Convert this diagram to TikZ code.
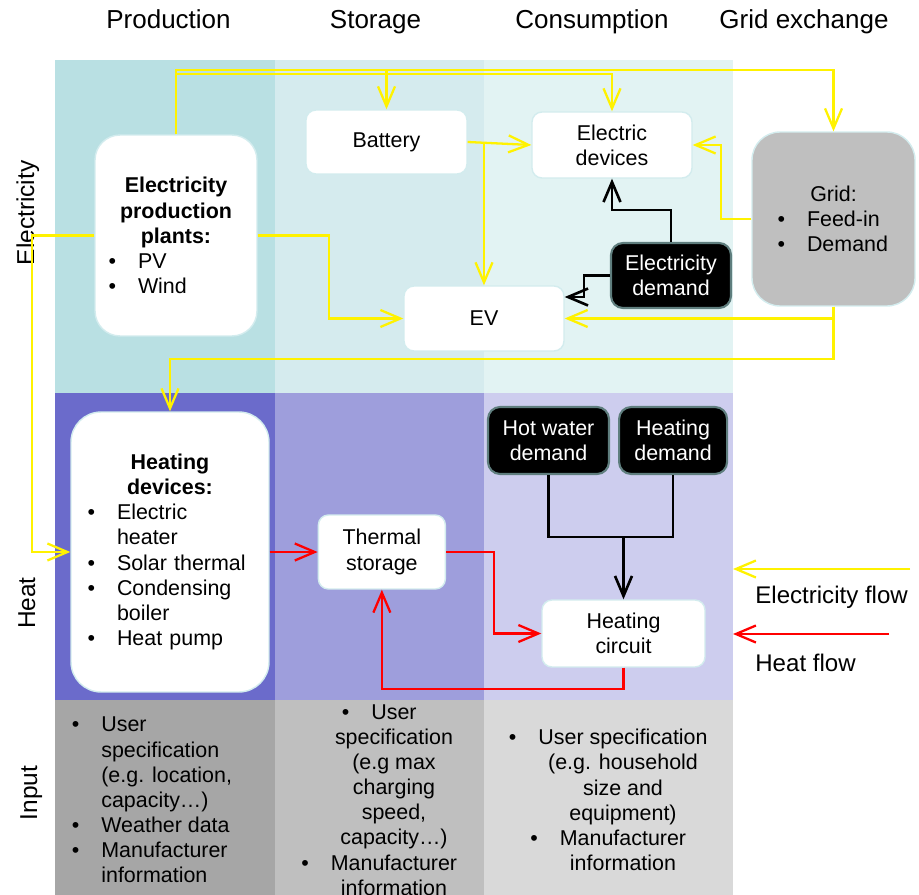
\documentclass[tikz,border=0pt]{standalone}
\usepackage{fontspec}
\setmainfont{Liberation Sans}
\usepackage{xcolor}
\usepackage{tikz}
\usetikzlibrary{arrows.meta,positioning}

\definecolor{elprod}{HTML}{B9E0E3}
\definecolor{elstor}{HTML}{D5EBEE}
\definecolor{elcons}{HTML}{E2F3F3}
\definecolor{htprod}{HTML}{6B6BCB}
\definecolor{htstor}{HTML}{9E9EDC}
\definecolor{htcons}{HTML}{CDCDEE}
\definecolor{inprod}{HTML}{A6A6A6}
\definecolor{instor}{HTML}{BFBFBF}
\definecolor{incons}{HTML}{D9D9D9}
\definecolor{gridgray}{HTML}{BFBFBF}
\definecolor{boxline}{HTML}{D3ECEE}
\definecolor{demline}{HTML}{5F7E7E}

\newcommand{\bodyfont}{\fontsize{12.2}{14.3}\selectfont}
\newcommand{\centred}[1]{\hspace*{\fill}#1\hspace*{\fill}\null}
\newcommand{\itm}[2]{\hspace*{#1}\llap{\textbullet\hspace{0.44cm}}#2}
\newcommand{\blt}{\llap{\textbullet\hspace{0.44cm}}}

\begin{document}
\begin{tikzpicture}[x=0.02cm, y=-0.02cm,
    box/.style={draw=boxline, line width=0.8pt, fill=white, rounded corners=0.2cm,
      align=center, inner sep=0pt, font=\bodyfont},
    bigbox/.style={box, rounded corners=0.5cm, align=left, inner xsep=0pt,
      execute at begin node={\setlength{\parindent}{0pt}}},
    dembox/.style={box, draw=demline, line width=1.2pt, fill=black, text=white,
      rounded corners=0.24cm},
    elec/.style={draw=yellow, line width=1.3pt, -{Straight Barb[length=4mm,width=3.4mm]}},
    heat/.style={elec, draw=red},
    dem/.style={elec, draw=black, line width=1.5pt},
    colhead/.style={font=\fontsize{14.8}{17}\selectfont, anchor=base},
    rowlab/.style={font=\fontsize{13.9}{16}\selectfont, rotate=90, anchor=base},
    inlist/.style={font=\bodyfont, align=center, inner sep=0pt},
    legtext/.style={font=\fontsize{13.7}{16}\selectfont, anchor=west, inner sep=0pt}]
  \useasboundingbox (0,0) rectangle (919,895);

  % background bands
  \fill[elprod] (55,60) rectangle (275,393);
  \fill[elstor] (275,60) rectangle (484,393);
  \fill[elcons] (484,60) rectangle (733,393);
  \fill[htprod] (55,393) rectangle (275,700);
  \fill[htstor] (275,393) rectangle (484,700);
  \fill[htcons] (484,393) rectangle (733,700);
  \fill[inprod] (55,700) rectangle (275,895);
  \fill[instor] (275,700) rectangle (484,895);
  \fill[incons] (484,700) rectangle (733,895);

  % headers
  \node[colhead] (hprod) at (168.5,28.5) {Production};
  \node[colhead] (hstor) at (375.5,28.5) {Storage};
  \node[colhead] (hcons) at (592,28.5) {Consumption};
  \node[colhead] (hgrid) at (804,28.5) {Grid exchange};
  \node[rowlab] (lelec) at (34,213) {Electricity};
  \node[rowlab] (lheat) at (35,603) {Heat};
  \node[rowlab] (linput) at (37,793) {Input};

  % electricity
  \node[bigbox, text width=3.24cm, minimum height=4.02cm] (epp) at (176,235.5)
    {\centred{\textbf{Electricity}}\\\centred{\textbf{production}}\\\centred{\textbf{plants:}}\\\itm{0.86cm}{PV}\\\itm{0.86cm}{Wind}};
  \node[box, minimum width=3.22cm, minimum height=1.28cm] (bat) at (386.5,142) {Battery};
  \node[box, minimum width=3.2cm, minimum height=1.32cm] (edev) at (612,145) {Electric\\devices};
  \node[box, minimum width=3.2cm, minimum height=1.3cm] (ev) at (484,318.5) {EV};
  \node[dembox, minimum width=2.4cm, minimum height=1.3cm] (edem) at (671,275.5) {Electricity\\demand};
  \node[bigbox, fill=gridgray, rounded corners=0.56cm, text width=3.26cm, minimum height=3.48cm] (grid) at (833.5,219)
    {\centred{Grid:}\\\itm{1.1cm}{Feed-in}\\\itm{1.1cm}{Demand}};

  % heat
  \node[bigbox, rounded corners=0.6cm, text width=3.96cm, minimum height=5.6cm] (hd) at (170,552)
    {\centred{\textbf{Heating}}\\\centred{\textbf{devices:}}\\\itm{0.92cm}{Electric}\\\hspace*{0.92cm}heater\\\itm{0.92cm}{Solar thermal}\\\itm{0.92cm}{Condensing}\\\hspace*{0.92cm}boiler\\\itm{0.92cm}{Heat pump}};
  \node[box, minimum width=2.54cm, minimum height=1.48cm, right=0.96cm of hd] (ts) {Thermal\\storage};
  \node[dembox, minimum width=2.42cm, minimum height=1.34cm] (hwd) at (548.5,440.5) {Hot water\\demand};
  \node[dembox, minimum width=2.16cm, minimum height=1.34cm, right=0.16cm of hwd] (htd) {Heating\\demand};
  \node[box, minimum width=3.26cm, minimum height=1.34cm] (hcr) at (623.5,633.5) {Heating\\circuit};

  % input
  \node[inlist, align=left, anchor=west] (inprod) at (101,800)
    {\blt User\\specification\\(e.g. location,\\capacity…)\\\blt Weather data\\\blt Manufacturer\\information};
  \node[inlist] (instor) at (394,800)
    {\blt User\\specification\\(e.g max\\charging\\speed,\\capacity…)\\\blt Manufacturer\\information};
  \node[inlist] (incons) at (623,800)
    {\blt User specification\\(e.g. household\\size and\\equipment)\\\blt Manufacturer\\information};

  % electricity flows
  \coordinate (rail1) at (0,70);
  \coordinate (rail2) at (0,74);
  \coordinate (lrail) at (32,0);
  \coordinate (mrail) at (329,0);
  \draw[elec] (epp.north) |- (rail1 -| grid.north) -- (grid.north);
  \draw[elec] (epp.north |- rail2) -| (edev.north);
  \draw[elec] (rail1 -| bat.north) -- (bat.north);
  \draw[elec] (epp.west) -- (epp.west -| lrail) |- (hd.west);
  \draw[elec] (epp.east) -- (epp.east -| mrail) |- (ev.west);
  \draw[elec] (bat.east) -- (edev.west);
  \draw[elec] (bat.east -| ev.north) -- (ev.north);
  \draw[elec] (grid.west) -- ++(-30,0) |- (edev.east);
  \draw[elec] (grid.south) |- (ev.east);
  \draw[elec] (grid.south) -- ++(0,52) -| (hd.north);
  \draw[dem] (edem.north) -- ++(0,-32) -| (edev.south);
  \draw[dem] (edem.west) -- ++(-26,0) |- ([yshift=0.43cm]ev.east);

  % heat flows
  \coordinate (join) at (623.5,537);
  \draw[dem, -] (hwd.south) |- (join);
  \draw[dem, -] (htd.south) |- (join);
  \draw[dem] (join) -- (hcr.north);
  \draw[heat] (hd.east) -- (ts.west);
  \draw[heat] (ts.east) -- ++(48,0) |- (hcr.west);
  \draw[heat] (hcr.south) -- ++(0,21) -| (ts.south);

  % legend
  \coordinate (elA) at (910,569);
  \coordinate (elB) at (733,569);
  \coordinate (htA) at (889,634);
  \coordinate (htB) at (733,634);
  \draw[elec] (elA) -- (elB);
  \draw[heat] (htA) -- (htB);
  \node[legtext] (elflow) at (755,597) {Electricity flow};
  \node[legtext] (htflow) at (755,663) {Heat flow};
\end{tikzpicture}
\end{document}
